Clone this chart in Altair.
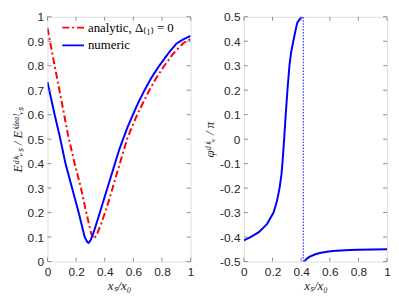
import altair as alt
import pandas as pd

# ---- left panel data ----
num_x = [0, 0.05, 0.085, 0.126, 0.172, 0.218, 0.26, 0.278, 0.287, 0.30, 0.32, 0.35, 0.40, 0.45, 0.5, 0.528, 0.56, 0.597, 0.635, 0.678, 0.725, 0.781, 0.85, 0.9, 0.95, 1.0]
num_y = [0.733, 0.60, 0.513, 0.40, 0.30, 0.20, 0.10, 0.08, 0.076, 0.086, 0.115, 0.17, 0.265, 0.36, 0.455, 0.50, 0.55, 0.60, 0.65, 0.70, 0.75, 0.80, 0.855, 0.89, 0.908, 0.922]
ana_x = [0, 0.05, 0.1, 0.145, 0.19, 0.234, 0.271, 0.306, 0.326, 0.345, 0.375, 0.414, 0.45, 0.49, 0.528, 0.556, 0.59, 0.627, 0.67, 0.712, 0.76, 0.816, 0.88, 0.95, 1.0]
ana_y = [0.953, 0.80, 0.65, 0.513, 0.40, 0.30, 0.20, 0.113, 0.093, 0.11, 0.155, 0.22, 0.29, 0.37, 0.445, 0.50, 0.55, 0.60, 0.652, 0.70, 0.75, 0.80, 0.85, 0.893, 0.909]

# ---- right panel data ----
phi1_x = [0, 0.046, 0.104, 0.161, 0.207, 0.23, 0.249, 0.262, 0.269, 0.275, 0.281, 0.292, 0.304, 0.318, 0.33, 0.345, 0.36, 0.373, 0.39, 0.407]
phi1_y = [-0.413, -0.40, -0.38, -0.347, -0.30, -0.255, -0.20, -0.145, -0.10, -0.05, 0.0, 0.10, 0.20, 0.30, 0.355, 0.40, 0.443, 0.476, 0.49, 0.50]
phi2_x = [0.421, 0.44, 0.46, 0.50, 0.529, 0.58, 0.621, 0.68, 0.736, 0.8, 0.9, 1.0]
phi2_y = [-0.50, -0.488, -0.48, -0.47, -0.465, -0.46, -0.457, -0.455, -0.453, -0.452, -0.451, -0.45]
sing_x = [0.415]
sing_y = [-0.5, 0.5]

xticks = [0, 0.2, 0.4, 0.6, 0.8, 1.0]
yticks_l = [0, 0.1, 0.2, 0.3, 0.4, 0.5, 0.6, 0.7, 0.8, 0.9, 1.0]
yticks_r = [-0.5, -0.4, -0.3, -0.2, -0.1, 0, 0.1, 0.2, 0.3, 0.4, 0.5]

LAB_ANA = "analytic, Δ₍₁₎ = 0"
LAB_NUM = "numeric"

W, H = 145, 248
TICK = 4
AXC = "#8c8c8c"
TXT = "#262626"
SANS = "Liberation Sans"
SERIF = "Liberation Serif"

lexpr = "toString(round(datum.value*10)/10)"

left_df = pd.DataFrame(
    [{"x": a, "y": b, "s": LAB_ANA} for a, b in zip(ana_x, ana_y)]
    + [{"x": a, "y": b, "s": LAB_NUM} for a, b in zip(num_x, num_y)]
)
right_df = pd.DataFrame(
    [{"x": a, "y": b, "b": "1"} for a, b in zip(phi1_x, phi1_y)]
    + [{"x": a, "y": b, "b": "2"} for a, b in zip(phi2_x, phi2_y)]
)
sing_df = pd.DataFrame({"x": [sing_x[0]], "y": [sing_y[0]], "y2": [sing_y[1]]})


def axis(values, title, pad, lpad):
    return alt.Axis(values=values, labelExpr=lexpr, title=title, titleFont=SERIF,
                    titleFontStyle="italic", titleFontWeight="normal", titleFontSize=13,
                    titleColor=TXT, titlePadding=pad, ticks=False, domain=False, grid=False,
                    labelFont=SANS, labelFontSize=12, labelColor=TXT, labelPadding=lpad,
                    labelOverlap=False, labelFlush=False, labelBound=False)


def panel(main_layers, ydomain, yticks, ytitle):
    xs = alt.Scale(domain=[0, 1])
    ys = alt.Scale(domain=ydomain)
    xa = axis(xticks, "xₛ/x₀", 2, 5)
    ya = axis(yticks, ytitle, 3, 4)
    xdf = pd.DataFrame({"x": xticks})
    ydf = pd.DataFrame({"y": yticks})
    common = dict(color=AXC, strokeWidth=1)
    X = lambda: alt.X("x:Q", scale=xs, axis=xa)
    Y = lambda: alt.Y("y:Q", scale=ys, axis=ya)
    bot = alt.Chart(xdf).mark_rule(**common).encode(x=X(), y=alt.value(H), y2=alt.value(H - TICK))
    top = alt.Chart(xdf).mark_rule(**common).encode(x=X(), y=alt.value(0), y2=alt.value(TICK))
    lef = alt.Chart(ydf).mark_rule(**common).encode(y=Y(), x=alt.value(0), x2=alt.value(TICK))
    rig = alt.Chart(ydf).mark_rule(**common).encode(y=Y(), x=alt.value(W), x2=alt.value(W - TICK))
    mains = [m(X(), Y()) for m in main_layers]
    return alt.layer(*mains, bot, top, lef, rig).properties(width=W, height=H)


def left_lines(X, Y):
    return alt.Chart(left_df).mark_line(strokeWidth=2, clip=True).encode(
        x=X, y=Y,
        color=alt.Color("s:N", scale=alt.Scale(domain=[LAB_ANA, LAB_NUM], range=["#ff0000", "#0000ff"]),
                        legend=alt.Legend(title=None, orient="none", legendX=14, legendY=3,
                                          symbolType="stroke", symbolSize=484, symbolStrokeWidth=2,
                                          clipHeight=16, rowPadding=2, labelFont=SERIF,
                                          labelFontSize=13, labelColor="black", labelOffset=3)),
        strokeDash=alt.StrokeDash("s:N", scale=alt.Scale(domain=[LAB_ANA, LAB_NUM], range=[[7, 3, 2, 3], [1, 0]]),
                                  legend=alt.Legend(title=None, orient="none", legendX=14, legendY=3)),
        order=alt.Order("x:Q"),
    )


def right_lines(X, Y):
    return alt.Chart(right_df).mark_line(strokeWidth=2, color="#0000ff", clip=True).encode(
        x=X, y=Y, detail="b:N", order=alt.Order("x:Q"))


def sing_line(X, Y):
    return alt.Chart(sing_df).mark_rule(color="#3333ff", strokeDash=[1.5, 1.5], strokeWidth=1.2).encode(
        x=X, y=Y, y2="y2:Q")


left = panel([left_lines], [0, 1], yticks_l, "Eᵈⁱˢᵥₛ / Eⁱᵈᵉᵃˡᵥₛ")
right = panel([right_lines, sing_line], [-0.5, 0.5], yticks_r, "φᵈⁱˢᵥ / π")

chart = alt.hconcat(left, right, spacing=8).properties(
    padding={"left": 2, "top": 0, "right": 0, "bottom": 0}
).configure_view(stroke=AXC, strokeWidth=1).configure(background="white")

chart.save("out.html", embed_options={"renderer": "svg", "actions": False})
